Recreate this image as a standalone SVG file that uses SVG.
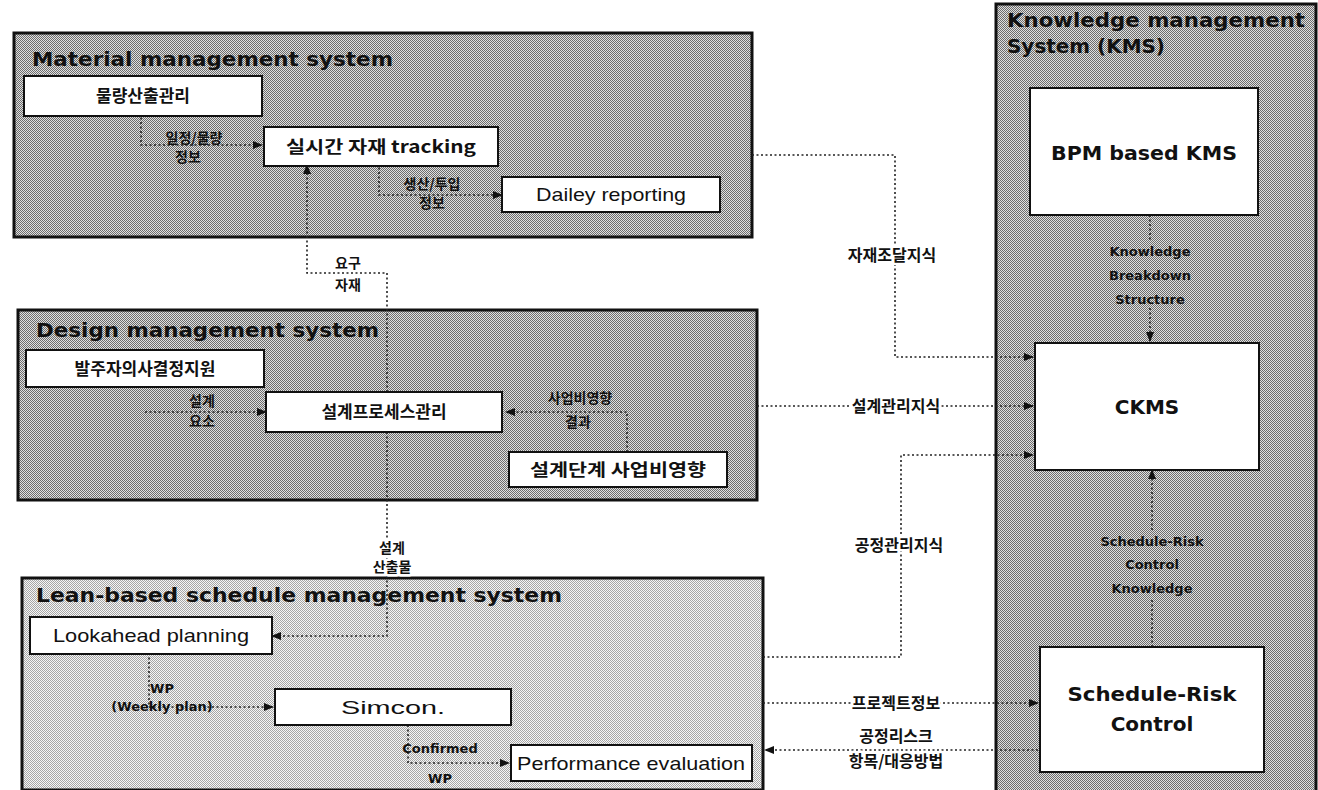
<svg xmlns="http://www.w3.org/2000/svg" width="1318" height="790" viewBox="0 0 1318 790">
<defs>
<pattern id="ht" width="2" height="2" patternUnits="userSpaceOnUse"><rect width="2" height="2" fill="#e0e0e0"/><rect width="1" height="1" fill="#6c6c6c"/><rect x="1" y="1" width="1" height="1" fill="#6c6c6c"/></pattern>
<pattern id="ht2" width="2" height="2" patternUnits="userSpaceOnUse"><rect width="2" height="2" fill="#f6f6f6"/><rect width="1" height="1" fill="#a6a6a6"/><rect x="1" y="1" width="1" height="1" fill="#a6a6a6"/></pattern>
<marker id="ah" markerWidth="10" markerHeight="8" refX="9" refY="4" orient="auto" markerUnits="userSpaceOnUse"><path d="M0,0 L10,4 L0,8 Z" fill="#111"/></marker>
<style>
.sys{stroke:#111;stroke-width:3}
.dk{fill:url(#ht)}
.lt{fill:url(#ht2)}
.bx{fill:#fff;stroke:#111;stroke-width:2}
.ttl{font-family:"DejaVu Sans","Liberation Sans",sans-serif;font-weight:bold;font-size:19px;fill:#111}
.kb{font-family:"Noto Sans CJK KR",sans-serif;font-weight:bold;font-size:17px;fill:#111;text-anchor:middle}
.kl{font-family:"Noto Sans CJK KR",sans-serif;font-weight:bold;font-size:14px;fill:#111;text-anchor:middle}
.kc{font-family:"Noto Sans CJK KR",sans-serif;font-weight:bold;font-size:16px;fill:#111;text-anchor:middle}
.halo{stroke:#fff;stroke-width:5;paint-order:stroke;stroke-linejoin:round}
.en{font-family:"Liberation Sans",sans-serif;font-size:19px;fill:#111;text-anchor:middle}
.eb{font-family:"DejaVu Sans","Liberation Sans",sans-serif;font-weight:bold;font-size:20px;fill:#111;text-anchor:middle}
.es{font-family:"DejaVu Sans","Liberation Sans",sans-serif;font-weight:bold;font-size:13px;fill:#111;text-anchor:middle}
.dot{fill:none;stroke:#222;stroke-width:1.6;stroke-dasharray:2 2.5}
</style>
</defs>
<rect width="1318" height="790" fill="#fff"/>

<g id="material-system">
<rect class="sys dk" x="14" y="33" width="738" height="204"/>
<text class="ttl" x="32" y="66" textLength="361" lengthAdjust="spacingAndGlyphs">Material management system</text>
</g>
<g id="design-system">
<rect class="sys dk" x="18" y="310" width="739" height="190"/>
<text class="ttl" x="36" y="337" textLength="343" lengthAdjust="spacingAndGlyphs">Design management system</text>
</g>
<g id="lean-system">
<rect class="sys lt" x="22" y="578" width="741" height="212"/>
<text class="ttl" x="36" y="602" textLength="526" lengthAdjust="spacingAndGlyphs">Lean-based schedule management system</text>
</g>
<g id="kms-system">
<rect class="sys dk" x="996" y="4" width="320" height="796"/>
<text class="ttl" x="1007" y="27" textLength="298" lengthAdjust="spacingAndGlyphs">Knowledge management</text>
<text class="ttl" x="1007" y="53" textLength="158" lengthAdjust="spacingAndGlyphs">System (KMS)</text>
</g>

<g id="connectors">
<path class="dot" d="M141,113 L141,145 L262,145" marker-end="url(#ah)"/>
<path class="dot" d="M379,163 L379,195 L502,195" marker-end="url(#ah)"/>
<path class="dot" d="M387,392 L387,273 L307,273 L307,165" marker-end="url(#ah)"/>
<path class="dot" d="M387,432 L387,636 L272,636" marker-end="url(#ah)"/>
<path class="dot" d="M145,412 L266,412" marker-end="url(#ah)"/>
<path class="dot" d="M627,452 L627,412 L506,412" marker-end="url(#ah)"/>
<path class="dot" d="M149,653 L149,707 L273,707" marker-end="url(#ah)"/>
<path class="dot" d="M408,725 L408,763 L509,763" marker-end="url(#ah)"/>
<path class="dot" d="M752,155 L895,155 L895,357 L1033,357" marker-end="url(#ah)"/>
<path class="dot" d="M757,406 L1033,406" marker-end="url(#ah)"/>
<path class="dot" d="M763,657 L901,657 L901,455 L1033,455" marker-end="url(#ah)"/>
<path class="dot" d="M763,703 L1038,703" marker-end="url(#ah)"/>
<path class="dot" d="M1038,750 L765,750" marker-end="url(#ah)"/>
<path class="dot" d="M1150,215 L1150,242"/>
<path class="dot" d="M1150,308 L1150,341" marker-end="url(#ah)"/>
<path class="dot" d="M1152,647 L1152,600"/>
<path class="dot" d="M1152,530 L1152,470" marker-end="url(#ah)"/>
</g>

<g id="connector-labels">
<text class="kl" x="194" y="143">일정/물량</text>
<text class="kl" x="188" y="162">정보</text>
<text class="kl" x="432" y="189">생산/투입</text>
<text class="kl" x="432" y="208">정보</text>
<text class="kl" x="348" y="268">요구</text>
<text class="kl" x="348" y="290">자재</text>
<text class="kl" x="202" y="406">설계</text>
<text class="kl" x="202" y="426">요소</text>
<text class="kl" x="580" y="403">사업비영향</text>
<text class="kl" x="578" y="427">결과</text>
<text class="kl halo" x="392" y="553">설계</text>
<text class="kl halo" x="392" y="572">산출물</text>
<text class="es" x="162" y="693">WP</text>
<text class="es" x="162" y="711">(Weekly plan)</text>
<text class="es" x="440" y="753">Confirmed</text>
<text class="es" x="440" y="783">WP</text>
<text class="kc halo" x="892" y="261">자재조달지식</text>
<text class="kc halo" x="896" y="412">설계관리지식</text>
<text class="kc halo" x="899" y="551">공정관리지식</text>
<text class="kc halo" x="896" y="709">프로젝트정보</text>
<text class="kc halo" x="896" y="742">공정리스크</text>
<text class="kc halo" x="896" y="767">항목/대응방법</text>
<text class="es" x="1150" y="256">Knowledge</text>
<text class="es" x="1150" y="280">Breakdown</text>
<text class="es" x="1150" y="304">Structure</text>
<text class="es" x="1152" y="546">Schedule-Risk</text>
<text class="es" x="1152" y="569">Control</text>
<text class="es" x="1152" y="593">Knowledge</text>
</g>

<g id="quantity-mgmt"><rect class="bx" x="24" y="76" width="238" height="40"/><text class="kb" x="143" y="102">물량산출관리</text></g>
<g id="realtime-tracking"><rect class="bx" x="264" y="127" width="234" height="39"/><text class="kb" x="381" y="153" textLength="190" lengthAdjust="spacingAndGlyphs">실시간 자재 tracking</text></g>
<g id="daily-reporting"><rect class="bx" x="502" y="177" width="218" height="35"/><text class="en" x="611" y="201" textLength="150" lengthAdjust="spacingAndGlyphs">Dailey reporting</text></g>
<g id="owner-decision"><rect class="bx" x="26" y="350" width="238" height="37"/><text class="kb" x="145" y="375">발주자의사결정지원</text></g>
<g id="design-process"><rect class="bx" x="266" y="392" width="236" height="40"/><text class="kb" x="384" y="418">설계프로세스관리</text></g>
<g id="cost-impact"><rect class="bx" x="509" y="452" width="218" height="35"/><text class="kb" x="618" y="476" textLength="176" lengthAdjust="spacingAndGlyphs">설계단계 사업비영향</text></g>
<g id="lookahead"><rect class="bx" x="30" y="617" width="242" height="37"/><text class="en" x="151" y="642" textLength="196" lengthAdjust="spacingAndGlyphs">Lookahead planning</text></g>
<g id="simcon"><rect class="bx" x="275" y="689" width="236" height="36"/><text class="en" x="393" y="714" textLength="104" lengthAdjust="spacingAndGlyphs">Simcon.</text></g>
<g id="performance"><rect class="bx" x="511" y="745" width="241" height="36"/><text class="en" x="631" y="770" textLength="228" lengthAdjust="spacingAndGlyphs">Performance evaluation</text></g>
<g id="bpm-kms"><rect class="bx" x="1030" y="88" width="228" height="127"/><text class="eb" x="1144" y="160" textLength="186" lengthAdjust="spacingAndGlyphs">BPM based KMS</text></g>
<g id="ckms"><rect class="bx" x="1035" y="343" width="224" height="127"/><text class="eb" x="1147" y="414">CKMS</text></g>
<g id="schedule-risk"><rect class="bx" x="1040" y="647" width="224" height="125"/><text class="eb" x="1152" y="701" textLength="169" lengthAdjust="spacingAndGlyphs">Schedule-Risk</text><text class="eb" x="1152" y="731">Control</text></g>
</svg>
